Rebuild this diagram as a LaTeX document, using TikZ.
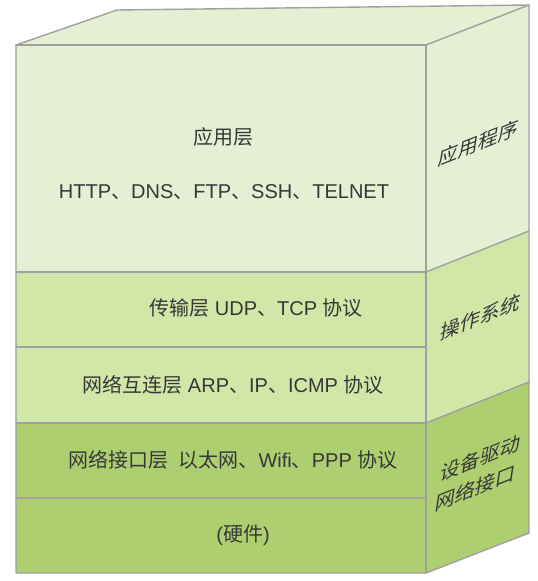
\documentclass[tikz,border=0pt]{standalone}
\usepackage{fontspec}
\setmainfont{Liberation Sans}
\newfontfamily\cjk{Noto Sans CJK SC}
\definecolor{lightg}{RGB}{228,239,211}
\definecolor{midg}{RGB}{209,231,168}
\definecolor{darkg}{RGB}{174,207,112}
\definecolor{edgegray}{RGB}{160,160,160}
\definecolor{txt}{RGB}{55,55,55}
\begin{document}
\begin{tikzpicture}[x=1pt,y=-1pt,
  edgeline/.style={draw=edgegray,line width=1.4pt,line join=round,line cap=round},
  lbl/.style={text=txt,font=\fontsize{20}{30}\selectfont,inner sep=0pt,align=center},
  sideshape/.style={cm={1,0.39,0.15,1,(0,0)}}]
\useasboundingbox (0,0) rectangle (538,581);
% front faces
\fill[lightg] (16,45) rectangle (426,272);
\fill[midg] (16,272) rectangle (426,423);
\fill[darkg] (16,423) rectangle (426,573);
% top face
\fill[lightg] (16,45) -- (117,10) -- (529,5) -- (426,45) -- cycle;
% side faces
\fill[lightg] (426,45) -- (529,5) -- (529,231) -- (426,272) -- cycle;
\fill[midg] (426,272) -- (529,231) -- (529,382) -- (426,423) -- cycle;
\fill[darkg] (426,423) -- (529,382) -- (529,533) -- (426,573) -- cycle;
% edges
\draw[edgeline] (16,573) -- (16,45) -- (117,10) -- (529,5) -- (529,533) -- (426,573) -- cycle;
\draw[edgeline] (16,45) -- (426,45) -- (426,573);
\draw[edgeline] (426,45) -- (529,5);
\foreach \yy in {272,347,423,498} \draw[edgeline] (16,\yy) -- (426,\yy);
\draw[edgeline] (426,272) -- (529,231);
\draw[edgeline] (426,423) -- (529,382);
% front labels
\node[lbl] (app) at (223,137) {\cjk 应用层};
\node[lbl] (appproto) at (224,192) {HTTP{\cjk 、}DNS{\cjk 、}FTP{\cjk 、}SSH{\cjk 、}TELNET};
\node[lbl] (trans) at (256,308) {{\cjk 传输层} UDP{\cjk 、}TCP {\cjk 协议}};
\node[lbl] (net) at (233,385) {{\cjk 网络互连层} ARP{\cjk 、}IP{\cjk 、}ICMP {\cjk 协议}};
\node[lbl] (link) at (233,460) {{\cjk 网络接口层}\hspace{10pt}{\cjk 以太网、}Wifi{\cjk 、}PPP {\cjk 协议}};
\node[lbl] (hw) at (243,535) {({\cjk 硬件})};
% side labels
\begin{scope}[shift={(479,143)},sideshape]
  \node[lbl,transform shape] (sideapp) at (0,0) {\cjk 应用程序};
\end{scope}
\begin{scope}[shift={(481,317)},sideshape]
  \node[lbl,transform shape] (sideos) at (0,0) {\cjk 操作系统};
\end{scope}
\begin{scope}[shift={(478,473)},sideshape]
  \node[lbl,transform shape] (sidedrv) at (0,0) {\cjk 设备驱动\\\cjk 网络接口};
\end{scope}
\end{tikzpicture}
\end{document}
